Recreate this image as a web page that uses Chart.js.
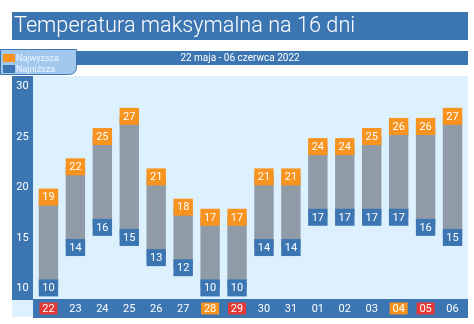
<!DOCTYPE html>
<html>
<head>
<meta charset="utf-8">
<script src="https://cdn.jsdelivr.net/npm/chart.js@4"></script>
<style>
  html, body { margin: 0; padding: 0; background: #fff; }
  #wrap { width: 474px; height: 324px; position: relative; }
</style>
</head>
<body>
<div id="wrap"><canvas id="graph" width="474" height="324"></canvas></div>
<script>
// dane
const days = ["22","23","24","25","26","27","28","29","30","31","01","02","03","04","05","06"];
const highs = [19,22,25,27,21,18,17,17,21,21,24,24,25,26,26,27];
const lows = [10,14,16,15,13,12,10,10,14,14,17,17,17,17,16,15];
const yTicks = [10,15,20,25,30];
const dayMarks = ["red","","","","","","orange","red","","","","","","orange","red",""]; // soboty / niedziele
const title = "Temperatura maksymalna na 16 dni";
const subtitle = "22 maja - 06 czerwca 2022";
const legendNames = ["Najwyższa","Najniższa"];

const BLUE = '#3c76b2';
const ORANGE = '#f7931e';
const RED = '#e53935';
const GRAY = '#8f9ca7';
const PLOT_BG = '#dcf0fd';

function roundRect(c, x, y, w, h, r) {
    c.beginPath();
    c.moveTo(x, y);
    c.lineTo(x + w, y);
    c.lineTo(x + w, y + h - r);
    c.quadraticCurveTo(x + w, y + h, x + w - r, y + h);
    c.lineTo(x, y + h);
    c.closePath();
}

const frame = {
    id: 'frame',
    beforeDraw(chart) {
        const c = chart.ctx;
        const a = chart.chartArea;
        c.save();
        // title
        c.fillStyle = BLUE;
        c.fillRect(12, 12, 456, 28);
        c.fillStyle = '#fff';
        c.font = '300 21.7px Roboto';
        c.textBaseline = 'middle';
        c.textAlign = 'left';
        c.fillText(title, 14, 26.5);
        // subtitle bar
        c.fillStyle = BLUE;
        c.fillRect(12, 51, 456, 14);
        c.fillStyle = '#fff';
        c.font = '10px Roboto';
        c.textAlign = 'center';
        c.fillText(subtitle, 240, 58.5);
        // plot background
        c.fillStyle = PLOT_BG;
        c.fillRect(12, a.top, 456, 241);
        // y band
        c.fillStyle = BLUE;
        c.fillRect(12, a.top, 21, a.bottom - a.top + 2);
        // x band
        c.fillRect(33, a.bottom + 1, 435, 19);
        // legend
        c.fillStyle = '#a3c8ee';
        c.strokeStyle = '#3c76b2';
        c.lineWidth = 1;
        roundRect(c, 0.5, 49.5, 76, 25, 8);
        c.fill();
        c.stroke();
        c.fillStyle = ORANGE;
        c.fillRect(3, 54, 12, 8);
        c.fillStyle = BLUE;
        c.fillRect(3, 65, 12, 8);
        c.fillStyle = '#eef5ff';
        c.font = '9px Roboto';
        c.textAlign = 'left';
        c.fillText(legendNames[0], 16, 58.5);
        c.fillText(legendNames[1], 16, 69.5);
        c.restore();
    },
    afterDatasetsDraw(chart) {
        const c = chart.ctx;
        const y = chart.scales.y;
        const x = chart.scales.x;
        const a = chart.chartArea;
        const meta = chart.getDatasetMeta(0);
        c.save();
        c.font = '11px Roboto';
        c.textAlign = 'center';
        c.textBaseline = 'middle';
        meta.data.forEach((bar, i) => {
            const w = bar.width;
            const yh = y.getPixelForValue(highs[i]);
            const yl = y.getPixelForValue(lows[i]);
            c.fillStyle = ORANGE;
            c.fillRect(bar.x - w / 2, yh - 8.5, w, 17);
            c.fillStyle = BLUE;
            c.fillRect(bar.x - w / 2, yl - 8.5, w, 17);
            c.fillStyle = '#fff';
            c.fillText(String(highs[i]), bar.x, yh + 0.5);
            c.fillText(String(lows[i]), bar.x, yl + 0.5);
        });
        // y ticks
        yTicks.forEach(v => {
            c.fillStyle = '#fff';
            c.fillText(String(v), 22.5, y.getPixelForValue(v) + 0.5);
        });
        // x ticks
        days.forEach((d, i) => {
            const px = x.getPixelForValue(i);
            const py = a.bottom + 10.5;
            if (dayMarks[i]) {
                c.fillStyle = dayMarks[i] === 'red' ? RED : ORANGE;
                c.fillRect(px - 9, py - 6, 18, 12);
            }
            c.fillStyle = '#fff';
            c.fillText(d, px, py + 0.5);
        });
        c.restore();
    }
};

new Chart(document.getElementById('graph'), {
    type: 'bar',
    data: {
        labels: days,
        datasets: [{
            label: 'Zakres',
            data: lows.map((l, i) => [l, highs[i]]),
            backgroundColor: GRAY,
            barPercentage: 0.72,
            categoryPercentage: 1
        }]
    },
    options: {
        responsive: false,
        animation: false,
        devicePixelRatio: 1,
        layout: { padding: { left: 35, top: 76, right: 8, bottom: 26 } },
        plugins: { legend: { display: false }, tooltip: { enabled: false } },
        scales: {
            x: { display: false },
            y: { display: false, min: 9, max: 31 }
        }
    },
    plugins: [frame]
});
</script>
</body>
</html>
